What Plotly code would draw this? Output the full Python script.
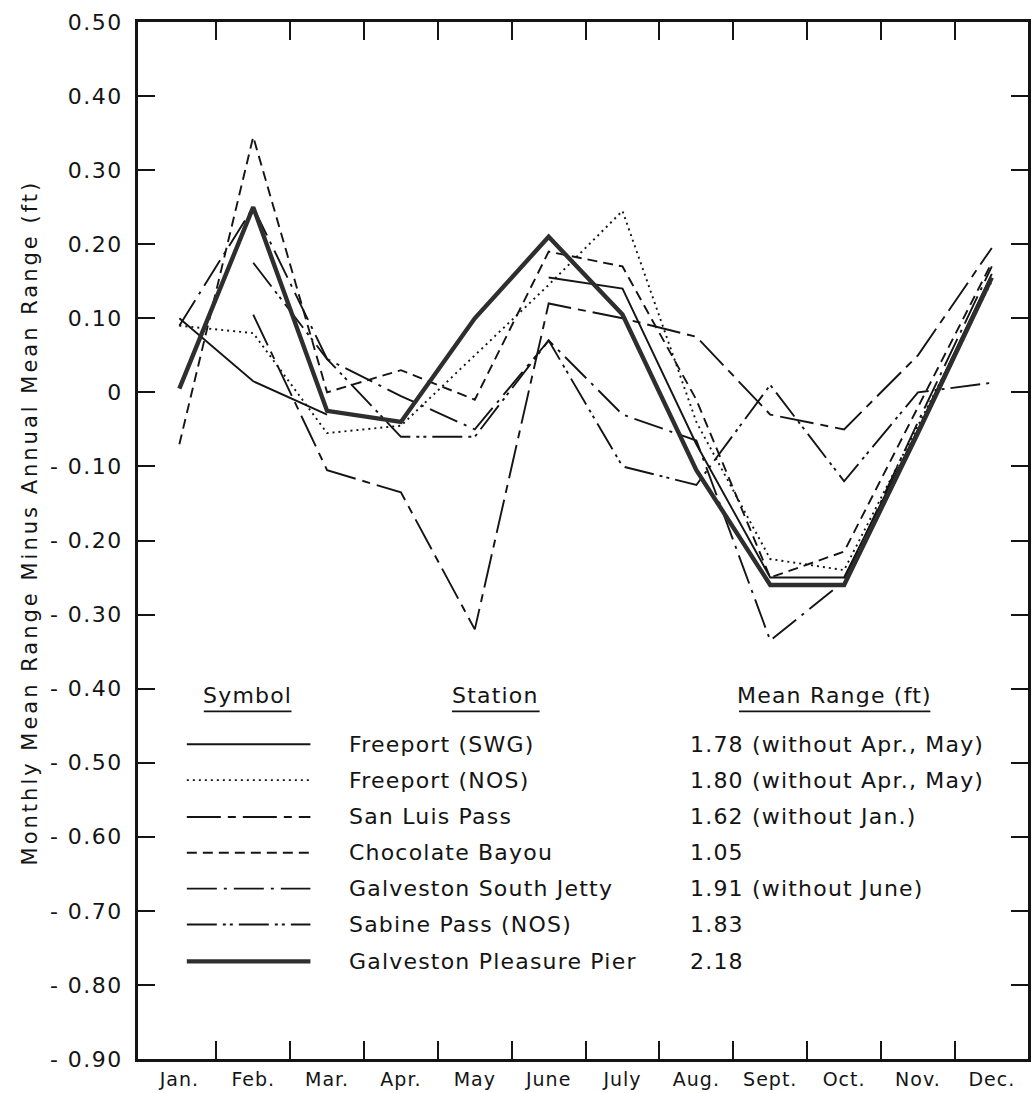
import plotly.graph_objects as go

# ---------------- data ----------------
months = ["Jan.", "Feb.", "Mar.", "Apr.", "May", "June", "July", "Aug.", "Sept.", "Oct.", "Nov.", "Dec."]

freeport_swg = [0.10, 0.015, -0.03, None, None, 0.155, 0.14, -0.07, -0.25, -0.25, -0.05, 0.16]
freeport_nos = [0.09, 0.08, -0.055, -0.045, 0.05, 0.145, 0.245, -0.04, -0.225, -0.24, -0.045, 0.15]
san_luis_pass = [None, 0.105, -0.105, -0.135, -0.32, 0.12, 0.10, 0.075, -0.03, -0.05, 0.05, 0.195]
chocolate_bayou = [-0.07, 0.345, 0.0, 0.03, -0.01, 0.19, 0.17, -0.01, -0.25, -0.215, -0.02, 0.175]
galveston_jetty = [0.09, 0.25, 0.045, -0.005, -0.05, 0.07, -0.03, -0.065, -0.335, -0.255, -0.04, 0.17]
sabine_pass = [None, 0.175, 0.045, -0.06, -0.06, 0.07, -0.10, -0.125, 0.01, -0.12, 0.0, 0.013]
galveston_pier = [0.005, 0.25, -0.025, -0.04, 0.10, 0.21, 0.105, -0.105, -0.26, -0.26, -0.055, 0.155]

stations = ["Freeport (SWG)", "Freeport (NOS)", "San Luis Pass", "Chocolate Bayou",
            "Galveston South Jetty", "Sabine Pass (NOS)", "Galveston Pleasure Pier"]
mean_ranges = ["1.78 (without Apr., May)", "1.80 (without Apr., May)", "1.62 (without Jan.)",
               "1.05", "1.91 (without June)", "1.83", "2.18"]
series = [freeport_swg, freeport_nos, san_luis_pass, chocolate_bayou,
          galveston_jetty, sabine_pass, galveston_pier]

y_tickvals = [0.5, 0.4, 0.3, 0.2, 0.1, 0.0, -0.1, -0.2, -0.3, -0.4, -0.5, -0.6, -0.7, -0.8, -0.9]
y_ticktext = ["0.50", "0.40", "0.30", "0.20", "0.10", "0",
              "- 0.10", "- 0.20", "- 0.30", "- 0.40", "- 0.50", "- 0.60", "- 0.70", "- 0.80", "- 0.90"]
y_title = "Monthly Mean Range Minus Annual Mean Range (ft)"
headers = ["Symbol", "Station", "Mean Range (ft)"]

# ---------------- styles ----------------
INK = "#141414"
styles = [
    dict(color=INK, width=1.9, dash="solid"),
    dict(color=INK, width=1.9, dash="2px,4px"),
    dict(color=INK, width=1.9, dash="34px,7px,8px,7px"),
    dict(color=INK, width=1.9, dash="10px,6px"),
    dict(color=INK, width=1.9, dash="30px,7px,3px,7px"),
    dict(color=INK, width=1.9, dash="30px,6px,3px,4px,3px,6px"),
    dict(color="#2e2e2e", width=4.4, dash="solid"),
]

FONT = "DejaVu Sans"
W, H = 1034, 1093
ML, MR, MT, MB = 138, 3, 22, 30
PW, PH = W - ML - MR, H - MT - MB


def px_x(px):
    return (px - ML) / PW


def px_y(py):
    return 1 - (py - MT) / PH


def spaced(s, ls):
    return "<span style='letter-spacing:%spx'>%s</span>" % (ls, s)


fig = go.Figure()
x_idx = list(range(len(months)))
for name, vals, st in zip(stations, series, styles):
    fig.add_trace(go.Scatter(x=x_idx, y=vals, mode="lines", name=name,
                             line=st, connectgaps=False, showlegend=False,
                             hoverinfo="skip"))

# ---------------- legend table ----------------
shapes = []
annotations = []
header_y = 698
for text, cx, half in zip(headers, [248, 497, 837], [44, 44, 96]):
    annotations.append(dict(text=spaced(text, 1.2), xref="paper", yref="paper",
                            x=px_x(cx), y=px_y(header_y), showarrow=False,
                            xanchor="center", yanchor="middle",
                            font=dict(family=FONT, size=22, color=INK)))
    shapes.append(dict(type="line", xref="paper", yref="paper",
                       x0=px_x(cx - half), x1=px_x(cx + half),
                       y0=px_y(714), y1=px_y(714), line=dict(color=INK, width=1.6)))

row_y = [747, 783, 820, 856, 892, 928, 965]
for ry, name, mr, st in zip(row_y, stations, mean_ranges, styles):
    shapes.append(dict(type="line", xref="paper", yref="paper",
                       x0=px_x(187), x1=px_x(311), y0=px_y(ry), y1=px_y(ry),
                       line=dict(color=st["color"], width=st["width"], dash=st["dash"])))
    annotations.append(dict(text=spaced(name, 1.2), xref="paper", yref="paper",
                            x=px_x(348), y=px_y(ry),
                            xanchor="left", yanchor="middle", showarrow=False,
                            font=dict(family=FONT, size=22, color=INK)))
    annotations.append(dict(text=spaced(mr, 1.2), xref="paper", yref="paper",
                            x=px_x(690), y=px_y(ry),
                            xanchor="left", yanchor="middle", showarrow=False,
                            font=dict(family=FONT, size=22, color=INK)))

# y-axis title
annotations.append(dict(text=spaced(y_title, 3), xref="paper", yref="paper",
                        x=px_x(30), y=px_y(524), textangle=-90, showarrow=False,
                        xanchor="center", yanchor="middle",
                        font=dict(family=FONT, size=21, color=INK)))

fig.update_layout(
    width=W, height=H,
    margin=dict(l=ML, r=MR, t=MT, b=MB),
    paper_bgcolor="white", plot_bgcolor="white",
    showlegend=False,
    shapes=shapes, annotations=annotations,
    font=dict(family=FONT, color=INK),
    xaxis=dict(
        range=[-0.56, 11.49], tickmode="array", tickvals=x_idx,
        ticktext=[spaced(m, 1) for m in months],
        ticks="", showgrid=False, zeroline=False,
        showline=True, linecolor=INK, linewidth=2.5, mirror="ticks",
        tickfont=dict(family=FONT, size=19, color=INK), ticklabelstandoff=1,
        minor=dict(tickmode="array", tickvals=[i + 0.5 for i in range(11)],
                   ticks="inside", ticklen=18, tickwidth=2, tickcolor=INK, showgrid=False),
    ),
    yaxis=dict(
        range=[-0.9, 0.5], tickmode="array", tickvals=y_tickvals,
        ticktext=[spaced(t, 1.5) for t in y_ticktext],
        ticks="inside", ticklen=17, tickwidth=2, tickcolor=INK,
        showgrid=False, zeroline=False,
        showline=True, linecolor=INK, linewidth=2.5, mirror="ticks",
        tickfont=dict(family=FONT, size=22, color=INK), ticklabelstandoff=8,
    ),
)

fig.write_html("out.html", config={"displayModeBar": False},
               post_script="document.body.style.margin='0px';document.body.style.padding='0px';")
